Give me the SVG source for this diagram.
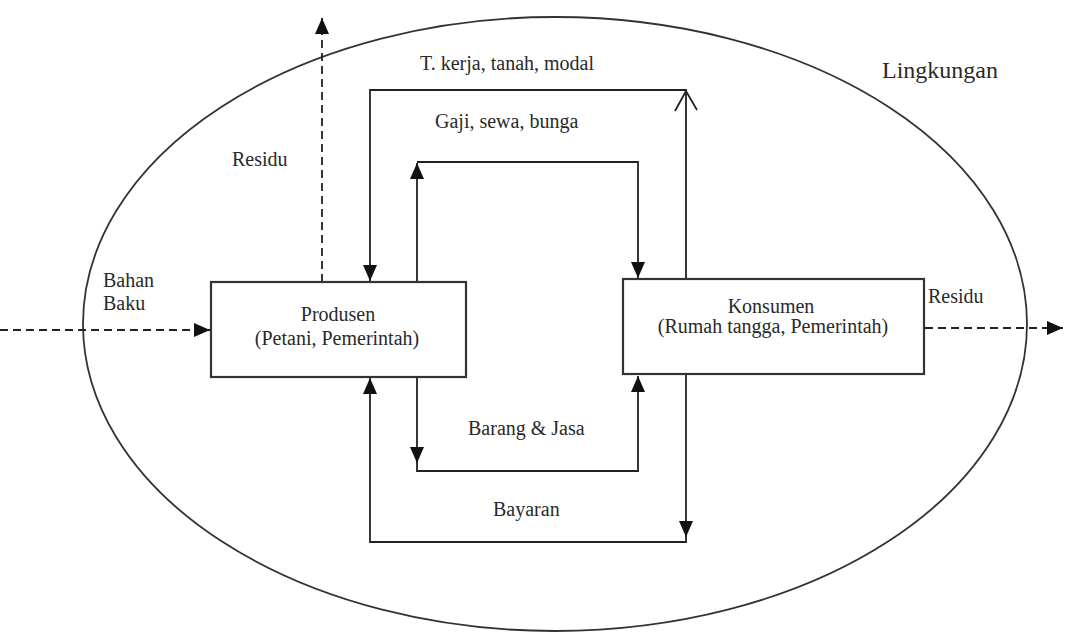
<svg xmlns="http://www.w3.org/2000/svg" width="1065" height="633" viewBox="0 0 1065 633">
<style>
  text { font-family: "Liberation Serif", "Times New Roman", serif; font-size: 20px; fill: #2a2a2a; }
  .c { text-anchor: middle; }
  .ln { fill: none; stroke: #222; stroke-width: 1.8; }
  .dash { fill: none; stroke: #222; stroke-width: 1.8; stroke-dasharray: 8 5; }
  .box { fill: #fff; stroke: #333; stroke-width: 2.2; }
</style>
<defs>
  <marker id="ah" markerUnits="userSpaceOnUse" markerWidth="16" markerHeight="14" refX="16" refY="7" orient="auto">
    <path d="M0,0 L16,7 L0,14 z" fill="#111"/>
  </marker>
</defs>
<rect width="1065" height="633" fill="#fff"/>
<g id="lingkungan">
  <ellipse cx="555" cy="324" rx="472" ry="307" fill="none" stroke="#333" stroke-width="1.8"/>
  <text x="882" y="78" style="font-size:24px">Lingkungan</text>
</g>
<g id="connectors">
  <!-- T. kerja, tanah, modal -->
  <path class="ln" d="M686,279 L686,90 L370,90 L370,281" marker-end="url(#ah)"/>
  <polyline class="ln" points="675,111 686,91 697,110"/>
  <!-- Gaji, sewa, bunga -->
  <path class="ln" d="M417,282 L417,163" marker-end="url(#ah)"/>
  <path class="ln" d="M417,162 L638,162 L638,278" marker-end="url(#ah)"/>
  <!-- Barang & Jasa -->
  <path class="ln" d="M417,377 L417,463" marker-end="url(#ah)"/>
  <path class="ln" d="M417,462 L417,471 L638,471 L638,376" marker-end="url(#ah)"/>
  <!-- Bayaran -->
  <path class="ln" d="M686,374 L686,537" marker-end="url(#ah)"/>
  <path class="ln" d="M686,536 L686,542 L370,542 L370,378" marker-end="url(#ah)"/>
  <!-- Residu up -->
  <path class="dash" d="M322,282 L322,18" marker-end="url(#ah)"/>
  <!-- Bahan Baku -->
  <path class="dash" d="M0,330 L210,330" marker-end="url(#ah)"/>
  <!-- Residu right -->
  <path class="dash" d="M925,328 L1063,328" marker-end="url(#ah)"/>
</g>
<g id="labels">
  <text x="420" y="70">T. kerja, tanah, modal</text>
  <text x="435" y="128">Gaji, sewa, bunga</text>
  <text x="232" y="166">Residu</text>
  <text x="103" y="287">Bahan</text>
  <text x="103" y="310">Baku</text>
  <text x="928" y="303">Residu</text>
  <text x="468" y="435">Barang &amp; Jasa</text>
  <text x="493" y="516">Bayaran</text>
</g>
<g id="produsen">
  <rect class="box" x="211" y="282" width="255" height="95"/>
  <text class="c" x="338" y="321">Produsen</text>
  <text class="c" x="337" y="345">(Petani, Pemerintah)</text>
</g>
<g id="konsumen">
  <rect class="box" x="623" y="279" width="301" height="95"/>
  <text class="c" x="771" y="313">Konsumen</text>
  <text class="c" x="773" y="333">(Rumah tangga, Pemerintah)</text>
</g>
</svg>
